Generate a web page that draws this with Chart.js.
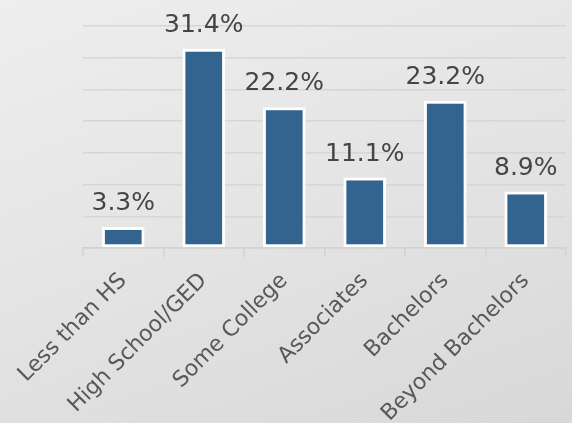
<!DOCTYPE html>
<html>
<head>
<meta charset="utf-8">
<script src="https://cdn.jsdelivr.net/npm/chart.js@4"></script>
<style>
  html, body { margin: 0; padding: 0; }
  body {
    width: 572px; height: 423px;
    background: linear-gradient(160deg, #eeeeee 0%, #e5e5e5 45%, #d8d8d8 100%);
  }
  #wrap { width: 572px; height: 423px; }
</style>
</head>
<body>
<div id="wrap"><canvas id="myChart"></canvas></div>
<script>
const categories = ["Less than HS", "High School/GED", "Some College", "Associates", "Bachelors", "Beyond Bachelors"];
const shares = [3.3, 31.4, 22.2, 11.1, 23.2, 8.9];
const valueLabels = ["3.3%", "31.4%", "22.2%", "11.1%", "23.2%", "8.9%"];

// writes the % above each bar, using the bar elements' positions
const barLabels = {
  id: 'barLabels',
  afterDatasetsDraw(chart) {
    const ctx = chart.ctx;
    const meta = chart.getDatasetMeta(0);
    ctx.save();
    ctx.font = '25px "DejaVu Sans"';
    ctx.fillStyle = '#454545';
    ctx.textAlign = 'center';
    ctx.textBaseline = 'alphabetic';
    meta.data.forEach((bar, i) => {
      ctx.fillText(valueLabels[i], bar.x, bar.y - 17);
    });
    ctx.restore();
  }
};

let myChart = document.getElementById('myChart').getContext('2d');
let barChart = new Chart(myChart, {
  type: 'bar',
  data: {
    labels: categories,
    datasets: [{
      data: shares,
      backgroundColor: '#33638f',
      borderColor: '#ffffff',
      borderWidth: 3,
      borderSkipped: false,
      categoryPercentage: 1,
      barPercentage: 0.53
    }]
  },
  options: {
    responsive: true,
    maintainAspectRatio: false,
    animation: false,
    layout: { padding: { left: 83, right: 6, top: 26, bottom: 0 } },
    plugins: { legend: { display: false }, tooltip: { enabled: false } },
    scales: {
      x: {
        grid: { drawOnChartArea: false, color: '#d2d2d2', lineWidth: 1.5, tickLength: 9 },
        border: { color: '#d2d2d2', width: 1.5 },
        ticks: {
          minRotation: 45, maxRotation: 45,
          color: '#585858',
          font: { family: 'DejaVu Sans', size: 22 },
          padding: 11
        },
        afterFit: s => { s.height = 175; }
      },
      y: {
        min: 0, max: 35,
        ticks: { display: false, stepSize: 5 },
        grid: { color: '#d6d6d6', lineWidth: 1.5, drawTicks: false },
        border: { display: false },
        afterFit: s => { s.width = 0; }
      }
    }
  },
  plugins: [barLabels]
});
</script>
</body>
</html>
